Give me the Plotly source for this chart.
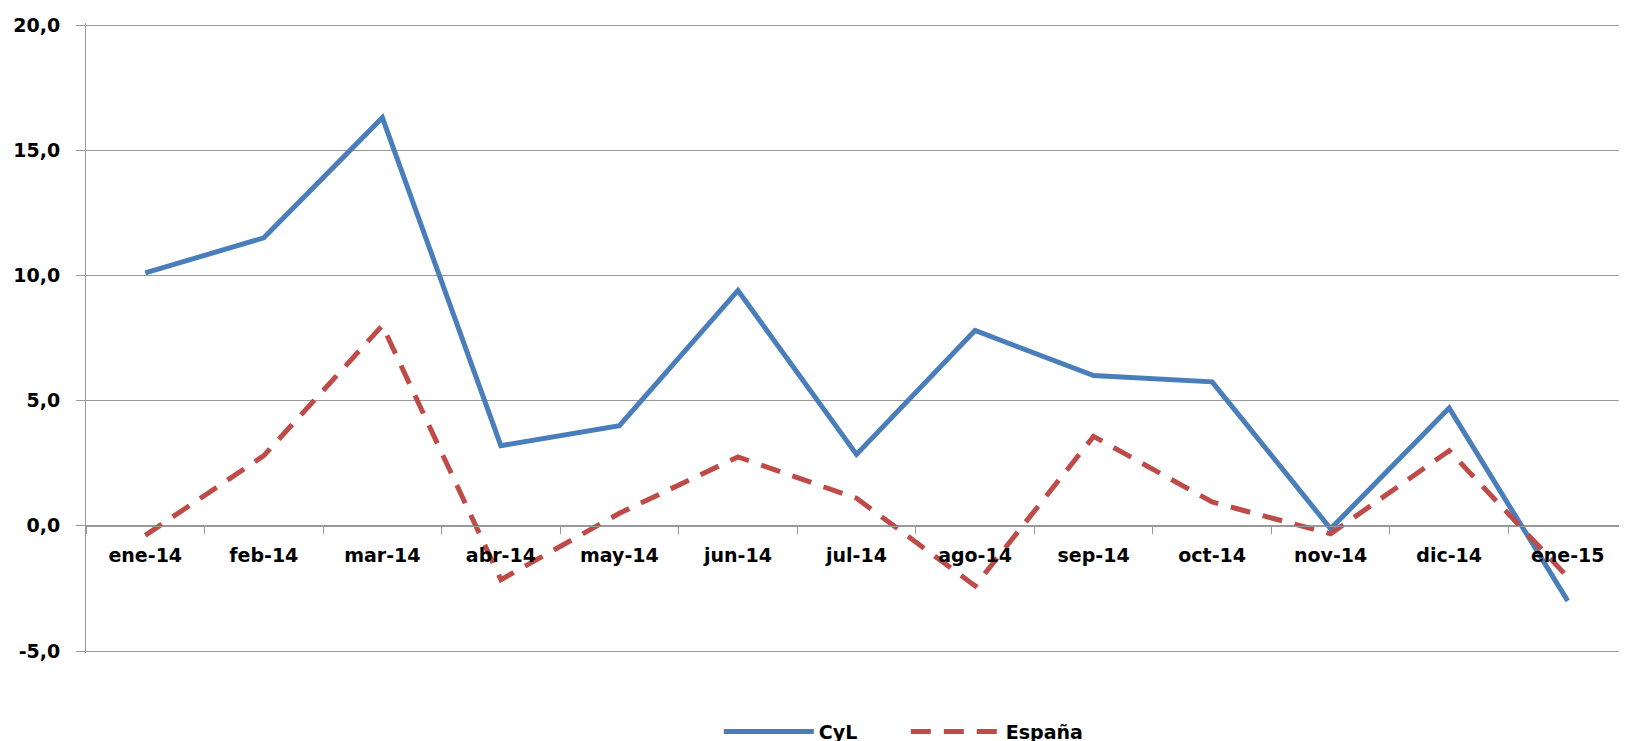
import plotly.graph_objects as go

categories = ["ene-14", "feb-14", "mar-14", "abr-14", "may-14", "jun-14", "jul-14",
              "ago-14", "sep-14", "oct-14", "nov-14", "dic-14", "ene-15"]
cyl = [10.1, 11.5, 16.3, 3.2, 4.0, 9.4, 2.85, 7.8, 6.0, 5.75, -0.12, 4.7, -3.0]
espana = [-0.38, 2.8, 8.0, -2.15, 0.5, 2.75, 1.1, -2.4, 3.57, 0.95, -0.32, 3.0, -2.05]
y_ticks = [-5, 0, 5, 10, 15, 20]
y_tick_labels = ["-5,0", "0,0", "5,0", "10,0", "15,0", "20,0"]

FONT = "DejaVu Sans"
# the page body adds an 8px offset, so the figure is 8px smaller than the window
W, H = 1619, 733
L, R, T, B = 78, 0, 15, 88

tick_font = dict(family=FONT, size=19, color="black", weight="bold")

fig = go.Figure()
fig.add_trace(go.Scatter(x=categories, y=cyl, name="CyL", mode="lines",
                         line=dict(color="#4A7EBB", width=5)))
fig.add_trace(go.Scatter(x=categories, y=espana, name="España", mode="lines",
                         line=dict(color="#BE4B48", width=5, dash="20px,13px")))

y_lo, y_hi = y_ticks[0], y_ticks[-1]
pad = 0.08
zero_pos = (0 - (y_lo - pad)) / ((y_hi + pad) - (y_lo - pad))

fig.update_layout(
    width=W, height=H,
    margin=dict(l=L, r=R, t=T, b=B, autoexpand=False),
    paper_bgcolor="white", plot_bgcolor="white",
    font=dict(family=FONT, size=19, color="black"),
    showlegend=True,
    legend=dict(orientation="h", x=0.532, xanchor="center", y=-0.125, yanchor="middle",
                font=dict(family=FONT, size=19, color="black", weight="bold"),
                itemwidth=90, entrywidth=82, entrywidthmode="pixels",
                bgcolor="rgba(0,0,0,0)"),
    xaxis=dict(type="category", anchor="free", position=zero_pos,
               showgrid=False, showline=True, linecolor="#999999", linewidth=1,
               ticks="outside", tickson="boundaries", ticklen=7, tickcolor="#999999",
               ticklabelstandoff=12, tickfont=tick_font,
               range=[-0.5, len(categories) - 0.5], fixedrange=True, zeroline=False),
    yaxis=dict(range=[y_lo - pad, y_hi + pad], tickvals=y_ticks, ticktext=y_tick_labels,
               showgrid=True, gridcolor="#999999", gridwidth=1,
               showline=True, linecolor="#999999", linewidth=1,
               ticks="outside", ticklen=9, tickcolor="#999999",
               ticklabelstandoff=12, tickfont=tick_font,
               zeroline=False, fixedrange=True),
)

fig.write_html("out.html")
